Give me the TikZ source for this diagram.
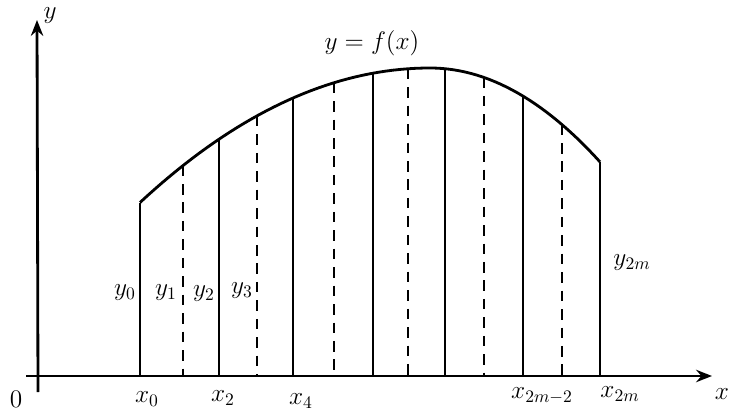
\documentclass[tikz,border=0pt]{standalone}
\usepackage{amsmath,amssymb}
\usepackage{tikz}
\usetikzlibrary{arrows.meta}

\begin{document}
\begin{tikzpicture}[x=0.02cm, y=-0.02cm,
  axis/.style={line width=1.6pt, -{Stealth[length=9pt, width=7pt]}},
  ordinate/.style={line width=1.5pt},
  midline/.style={line width=1.5pt, dash pattern=on 6pt off 4.5pt},
  curve/.style={line width=1.6pt},
  lab/.style={font=\Large, inner sep=1pt}
]
\useasboundingbox (0,0) rectangle (733,415);

% Axes
\coordinate (ybot) at (38,392);
\coordinate (ytop) at (37,20);
\coordinate (xleft) at (26,376);
\coordinate (xright) at (712,376);
\draw[axis] (ybot) -- (ytop);
\draw[axis] (xleft) -- (xright);
\node[lab] (origin) at (16,399) {$0$};
\node[lab] (ylab) at (50,16) {$y$};
\node[lab] (xlab) at (722,394) {$x$};

% Points on the curve
\coordinate (t0) at (140,202.6);
\coordinate (t1) at (183,165.6);
\coordinate (t2) at (219,139.2);
\coordinate (t3) at (257,115.9);
\coordinate (t4) at (293,98.0);
\coordinate (t5) at (334,82.7);
\coordinate (t6) at (373,73.2);
\coordinate (t7) at (408,68.8);
\coordinate (t8) at (445,68.7);
\coordinate (t9) at (484,77.5);
\coordinate (t10) at (523,96.1);
\coordinate (t11) at (562,124.6);
\coordinate (t12) at (600,161.9);

% Draw the curve
\draw[curve] plot[domain=140:430, samples=40] (\x, {68+(0.04*(\x-430))^2})
  -- plot[domain=430:600, samples=30] (\x, {68+(0.057*(\x-430))^2});
\node[lab] (curvelab) at (372,43) {$y=f(x)$};

% Even ordinates (solid)
\draw[ordinate] (t0) -- (t0 |- xleft);
\draw[ordinate] (t2) -- (t2 |- xleft);
\draw[ordinate] (t4) -- (t4 |- xleft);
\draw[ordinate] (t6) -- (t6 |- xleft);
\draw[ordinate] (t8) -- (t8 |- xleft);
\draw[ordinate] (t10) -- (t10 |- xleft);
\draw[ordinate] (t12) -- (t12 |- xleft);

% Odd ordinates (dashed)
\draw[midline] (t1) -- (t1 |- xleft);
\draw[midline] (t3) -- (t3 |- xleft);
\draw[midline] (t5) -- (t5 |- xleft);
\draw[midline] (t7) -- (t7 |- xleft);
\draw[midline] (t9) -- (t9 |- xleft);
\draw[midline] (t11) -- (t11 |- xleft);

% Ordinate labels
\node[lab] (ly0) at (125,293) {$y_0$};
\node[lab] (ly1) at (166,293) {$y_1$};
\node[lab] (ly2) at (204,294) {$y_2$};
\node[lab] (ly3) at (242,291) {$y_3$};
\node[lab] (ly2m) at (632,263) {$y_{2m}$};

% Abscissa labels
\node[lab] (lx0) at (147,399) {$x_0$};
\node[lab] (lx2) at (223,398) {$x_2$};
\node[lab] (lx4) at (301,401) {$x_4$};
\node[lab] (lx2m2) at (542,396) {$x_{2m-2}$};
\node[lab] (lx2m) at (620,394) {$x_{2m}$};

\end{tikzpicture}
\end{document}
